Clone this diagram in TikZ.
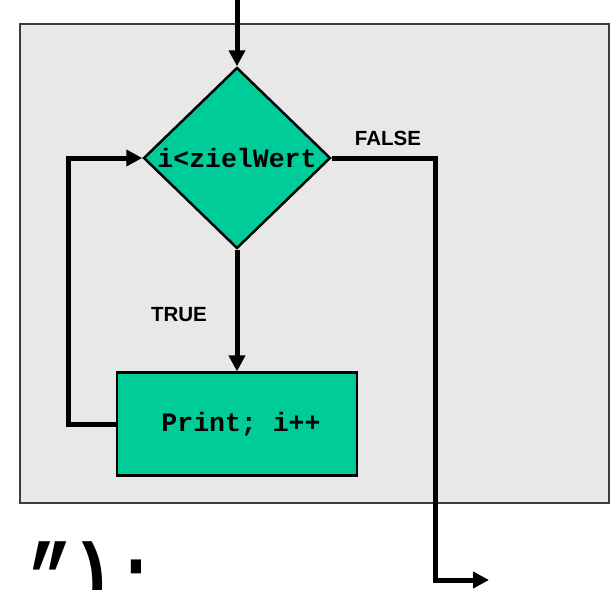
\documentclass[tikz,border=0pt]{standalone}
\usepackage{fontspec}
\setmainfont{Liberation Sans}
\newfontfamily\codefont{Liberation Mono}
\usetikzlibrary{shapes.geometric,arrows.meta}
\definecolor{flowgreen}{RGB}{0,204,153}
\definecolor{panelgray}{RGB}{232,232,232}
\definecolor{paneledge}{RGB}{60,60,60}
\tikzset{
  panel/.style={fill=panelgray,draw=paneledge,line width=1.5pt},
  decision/.style={diamond,fill=flowgreen,draw=black,line width=2.5pt,inner sep=0pt,
    minimum width=187pt,minimum height=181pt,
    font=\codefont\bfseries\fontsize{26.5}{30}\selectfont},
  action/.style={rectangle,fill=flowgreen,draw=black,line width=2.2pt,inner sep=0pt,
    minimum width=240pt,minimum height=103pt,
    font=\codefont\bfseries\fontsize{26.5}{30}\selectfont},
  flow/.style={line width=5pt,line join=miter,-{Triangle[length=16pt,width=16pt]}},
  branch/.style={font=\bfseries\fontsize{20.5}{24}\selectfont}
}
\begin{document}
\begin{tikzpicture}[x=1pt,y=-1pt]
\useasboundingbox (0,0) rectangle (615,589);
\clip (0,0) rectangle (615,589);
% background panel
\path[panel] (20,24) rectangle (609,503);
% tail of the statement below the panel
\node[anchor=base west,inner sep=0pt,yscale=1.3,
  font=\codefont\bfseries\fontsize{72}{80}\selectfont] (tail) at (28,609) {”);};
% flowchart elements
\node[decision] (cond) at (237,158) {i<zielWert};
\node[action] (body) at (237,424) {\hspace*{8pt}Print; i++};
\node[branch] (false) at (388,138) {FALSE};
\node[branch] (true) at (179,315) {TRUE};
\coordinate (entry) at (237,0);
\coordinate (loopcorner) at (68,424);
\coordinate (exitbend) at (435,580);
\coordinate (exit) at (489,580);
% connectors
\draw[flow] (entry) -- (cond.north);
\draw[flow] (cond.south) -- (body.north);
\draw[flow] (body.west) -- (loopcorner) |- (cond.west);
\draw[flow] (cond.east) -| (exitbend) -- (exit);
\end{tikzpicture}
\end{document}
